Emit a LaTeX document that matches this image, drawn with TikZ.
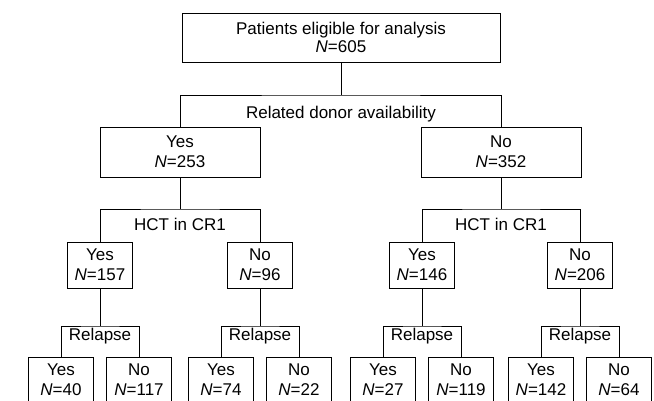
\documentclass[tikz,border=0pt]{standalone}
\usepackage{fontspec}
\setmainfont{Liberation Sans}
\usepackage{tikz}
\usetikzlibrary{calc}
\tikzset{>=latex}
\tikzset{
  box/.style={draw, align=center, inner sep=0pt, minimum width=65pt, minimum height=46pt},
  bigbox/.style={box, minimum width=160pt, minimum height=50pt},
  branch/.style={anchor=base, inner sep=0pt}
}

\begin{document}
\begin{tikzpicture}[x=1pt, y=-1pt, line width=0.9pt,
    every node/.append style={font=\fontsize{17}{20}\selectfont}]
                \clip (0,0) rectangle (654,401);

                \node[box, minimum width=318pt, minimum height=49pt, font=\fontsize{17}{18.5}\selectfont] (all) at (341,37.5) {Patients eligible for analysis\\\textit{N}=605};

                \coordinate (donor) at (341,95);
                \node[branch] (donorlbl) at (341,119) {Related donor availability};
                \node[bigbox] (rel1) at (180,152) {Yes\\\textit{N}=253};
                \node[bigbox] (rel0) at (501,152) {No\\\textit{N}=352};
                \draw (all.south) -- (donor);
                \draw (rel1.north) |- (donor) -| (rel0.north);

                \coordinate (hct1) at (180,209);
                \coordinate (hct0) at (501,209);
                \node[branch] (hct1lbl) at (180,230) {HCT in CR1};
                \node[branch] (hct0lbl) at (501,230) {HCT in CR1};
                \node[box] (a) at (100,265) {Yes\\\textit{N}=157};
                \node[box] (b) at (260,265) {No\\\textit{N}=96};
                \node[box] (c) at (422,265) {Yes\\\textit{N}=146};
                \node[box] (d) at (580,265) {No\\\textit{N}=206};
                \draw (rel1.south) -- (hct1);
                \draw (rel0.south) -- (hct0);
                \draw (a.north) |- (hct1) -| (b.north);
                \draw (c.north) |- (hct0) -| (d.north);

                \foreach \px/\nm/\ny/\nn in {100/a/40/117, 260/b/74/22, 422/c/27/119, 580/d/142/64} {
                  \coordinate (\nm r) at (\px,326);
                  \node[branch] (\nm lbl) at (\px,340) {Relapse};
                  \node[box] (\nm y) at (\px-39,380) {Yes\\\textit{N}=\ny};
                  \node[box] (\nm n) at (\px+39,380) {No\\\textit{N}=\nn};
                  \draw (\nm.south) -- (\nm r);
                  \draw (\nm y.north) |- (\nm r) -| (\nm n.north);
                }
              \end{tikzpicture}
\end{document}
